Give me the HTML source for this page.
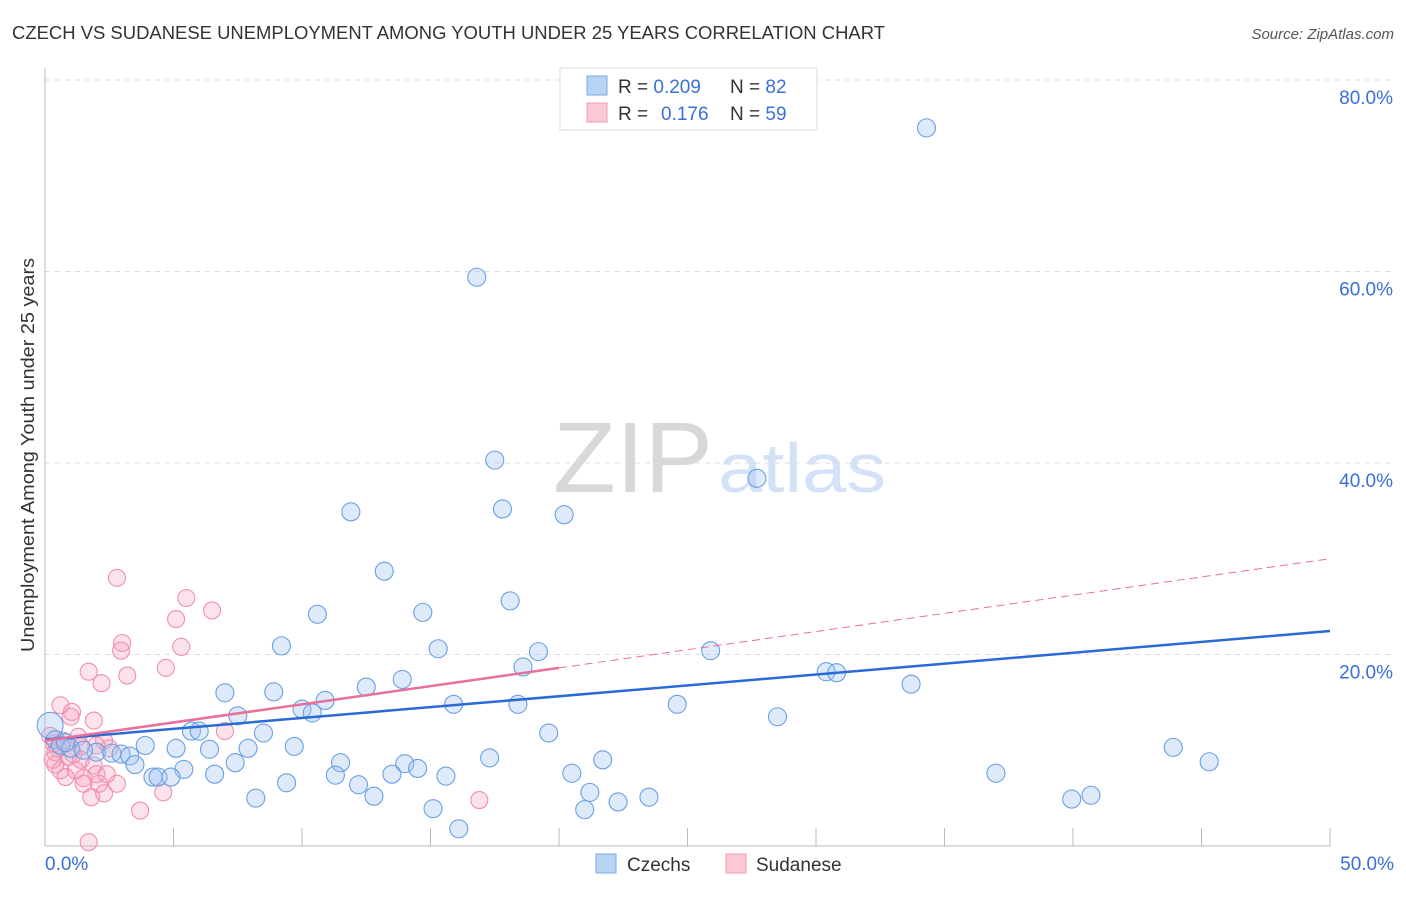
<!DOCTYPE html>
<html><head><meta charset="utf-8"><style>
body{margin:0;background:#fff;font-family:"Liberation Sans",sans-serif}
svg text{font-family:"Liberation Sans",sans-serif}
</style></head><body>
<svg width="1406" height="892">
<text x="12" y="39" font-size="18" fill="#333" textLength="873" lengthAdjust="spacingAndGlyphs">CZECH VS SUDANESE UNEMPLOYMENT AMONG YOUTH UNDER 25 YEARS CORRELATION CHART</text>
<text x="1394" y="39" font-size="15" fill="#555" font-style="italic" text-anchor="end">Source: ZipAtlas.com</text>
<text x="34" y="455" font-size="18" fill="#333" text-anchor="middle" textLength="394" lengthAdjust="spacingAndGlyphs" transform="rotate(-90 34 455)">Unemployment Among Youth under 25 years</text>
<text x="553" y="492" font-size="100" fill="#d8d8d8" font-family="Liberation Serif" textLength="160" lengthAdjust="spacingAndGlyphs">ZIP</text>
<text x="718" y="492" font-size="70" fill="#d3e2f6" textLength="168" lengthAdjust="spacingAndGlyphs">atlas</text>
<g id="grid"></g>
<g id="marks"></g>
<g>
<rect x="560" y="68" width="257" height="62" fill="#fff" stroke="#ddd"/>
<rect x="587" y="76" width="20" height="19" fill="#b9d3f5" stroke="#7aa8e8"/>
<rect x="587" y="103" width="20" height="19" fill="#fbc8d6" stroke="#f09ab4"/>
<text x="618" y="93" font-size="19" fill="#333">R = <tspan fill="#3a6fd8">0.209</tspan><tspan x="730">N = </tspan><tspan fill="#3a6fd8">82</tspan></text>
<text x="618" y="120" font-size="19" fill="#333">R = <tspan x="661" fill="#3a6fd8">0.176</tspan><tspan x="730">N = </tspan><tspan fill="#3a6fd8">59</tspan></text>
</g>
<g>
<rect x="596" y="854" width="20" height="19" fill="#b9d3f5" stroke="#7aa8e8"/>
<text x="627" y="871" font-size="19" fill="#333">Czechs</text>
<rect x="726" y="854" width="20" height="19" fill="#fbc8d6" stroke="#f09ab4"/>
<text x="756" y="871" font-size="19" fill="#333">Sudanese</text>
</g>
</svg>
<script>
const yTicks=[20,40,60,80];
const xTickLabels=["0.0%","50.0%"];
const czX=[34.3,16.8,17.5,27.7,11.9,17.8,20.2,13.2,10.6,14.7,18.1,9.2,15.3,19.2,25.9,18.6,30.4,30.8,13.9,33.7,7.0,8.9,12.5,10.9,10.0,10.4,15.9,18.4,24.6,7.5,28.5,5.7,6.0,8.5,19.6,3.9,5.1,6.4,7.9,9.7,43.9,2.0,2.6,2.96,3.3,3.5,17.3,21.7,45.3,7.4,11.5,14.0,14.5,5.4,4.2,4.4,4.9,6.6,11.3,13.5,15.6,20.5,37.0,9.4,12.2,21.2,8.2,12.8,23.5,40.7,39.95,22.3,15.1,21.0,16.1,0.2,0.4,0.6,1.0,1.5,0.8];
const czY=[75.0,59.4,40.3,38.4,34.9,35.2,34.6,28.7,24.2,24.4,25.6,20.9,20.6,20.3,20.4,18.7,18.2,18.1,17.4,16.9,16.0,16.1,16.6,15.2,14.3,13.9,14.8,14.8,14.8,13.6,13.5,12.0,12.0,11.8,11.8,10.5,10.2,10.1,10.2,10.4,10.3,9.8,9.7,9.6,9.4,8.5,9.2,9.0,8.8,8.7,8.7,8.6,8.1,8.0,7.2,7.2,7.2,7.5,7.4,7.5,7.3,7.6,7.6,6.6,6.4,5.6,5.0,5.2,5.1,5.3,4.9,4.6,3.9,3.8,1.8,12.6,11.1,10.5,10.2,10.0,10.8];
const suX=[2.8,5.5,6.5,5.1,3.0,2.96,5.3,4.7,1.7,3.2,2.2,0.6,1.05,1.0,1.9,7.0,1.3,0.7,2.3,0.35,1.4,2.0,2.5,0.4,0.9,1.4,0.4,0.6,1.2,1.9,0.8,1.5,2.0,2.4,1.5,2.1,2.8,1.8,2.3,4.6,3.7,16.9,1.7,0.2,0.5,1.1,0.3];
const suY=[28.0,25.9,24.6,23.7,21.2,20.4,20.8,18.6,18.2,17.8,17.0,14.7,14.0,13.5,13.1,12.0,11.4,11.0,11.0,10.7,10.4,10.5,10.2,9.8,9.3,9.0,8.5,7.9,7.9,8.4,7.2,7.1,7.5,7.5,6.5,6.5,6.5,5.1,5.5,5.6,3.7,4.8,0.4,11.5,10.2,9.6,9.0];
const czTrend=[11.1,22.45];
const suTrend=[11.0,30.0];
const NS="http://www.w3.org/2000/svg";
const X=v=>45+v*25.7, Y=v=>846-v*9.575;
function mk(t,a,p){const e=document.createElementNS(NS,t);for(const k in a)e.setAttribute(k,a[k]);p.appendChild(e);return e;}
const g=document.getElementById('grid'), m=document.getElementById('marks');
yTicks.forEach(t=>{
 const l=mk('line',{x1:45,x2:1394,y1:Y(t),y2:Y(t),stroke:'#ddd','stroke-dasharray':'5,5'},g);
 
 
 const tx=mk('text',{x:1393,y:Y(t)+24,'font-size':19,fill:'#3a6fd8','text-anchor':'end'},g);
 tx.textContent=t.toFixed(1)+'%';
 
 
});
mk('line',{x1:45,x2:45,y1:68,y2:846,stroke:'#bbb'},g);
mk('line',{x1:45,x2:1330,y1:846,y2:846,stroke:'#bbb'},g);
for(let i=1;i<=10;i++){const x=X(i*5);const l=mk('line',{x1:x,x2:x,y1:828,y2:846,stroke:'#bbb'},g);
 
 }
[[0,'start',45],[50,'end',1394]].forEach((d,i)=>{const t=mk('text',{x:d[2],y:870,'font-size':19,fill:'#3a6fd8','text-anchor':d[1]},g);t.textContent=xTickLabels[i];
 
 });
suX.forEach((v,i)=>{const c=mk('circle',{cx:X(v),cy:Y(suY[i]),r:8.5,fill:'rgba(246,160,188,0.3)',stroke:'#f08fae','stroke-width':1.1},m);
 
 });
czX.forEach((v,i)=>{const c=mk('circle',{cx:X(v),cy:Y(czY[i]),r:i==75?13:9,fill:'rgba(160,196,240,0.35)',stroke:'#6a9fe3','stroke-width':1.1},m);
 
 });
const bl=mk('line',{x1:X(0),y1:Y(czTrend[0]),x2:X(50),y2:Y(czTrend[1]),stroke:'#2a6ad6','stroke-width':2.5},m);


const sm=suTrend[0]+(suTrend[1]-suTrend[0])*0.4;
const pl=mk('line',{x1:X(0),y1:Y(suTrend[0]),x2:X(20),y2:Y(sm),stroke:'#e8709a','stroke-width':2.5},m);


const pd=mk('line',{x1:X(20),y1:Y(sm),x2:X(50),y2:Y(suTrend[1]),stroke:'#e8709a','stroke-width':1,'stroke-dasharray':'8,5'},m);


</script>
</body></html>
